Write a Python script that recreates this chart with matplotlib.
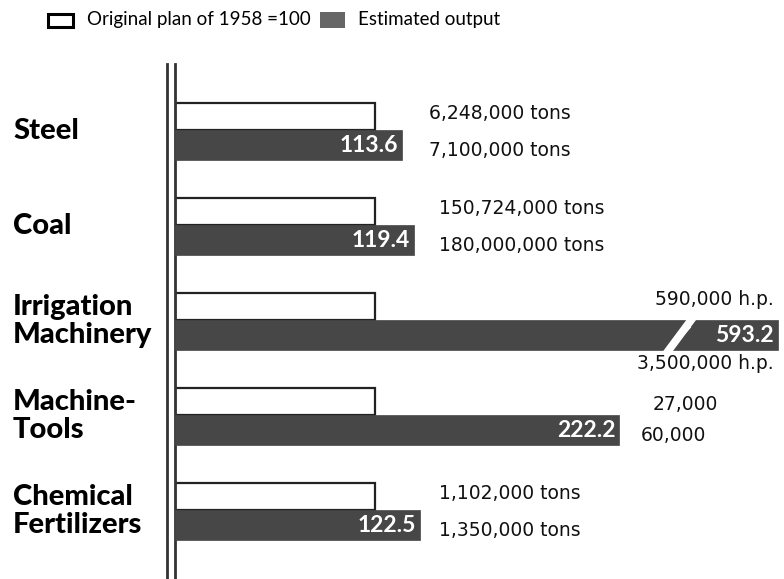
import matplotlib
matplotlib.use("Agg")
import matplotlib.pyplot as plt
from matplotlib.patches import Rectangle, Polygon
from matplotlib.lines import Line2D
import numpy as np

categories = ["Steel", "Coal", "Irrigation\nMachinery", "Machine-\nTools", "Chemical\nFertilizers"]
plan_index = [100, 100, 100, 100, 100]
estimated_index = [113.6, 119.4, 593.2, 222.2, 122.5]
plan_labels = ["6,248,000 tons", "150,724,000 tons", "590,000 h.p.", "27,000", "1,102,000 tons"]
estimated_labels = ["7,100,000 tons", "180,000,000 tons", "3,500,000 h.p.", "60,000", "1,350,000 tons"]
value_labels = ["113.6", "119.4", "593.2", "222.2", "122.5"]

FONT = "Lato"
SIDE_FONT = "DejaVu Sans"
DARK = "#474747"

W, H = 784, 579
fig = plt.figure(figsize=(W / 100, H / 100), dpi=100)

ax_left, ax_right = 175, 784
ax_top, ax_bottom = 64, 579
ax = fig.add_axes([ax_left / W, 1 - ax_bottom / H, (ax_right - ax_left) / W, (ax_bottom - ax_top) / H])

px_per_unit = 2.0
xmax = (ax_right - ax_left) / px_per_unit
cap = xmax - 3
ax.set_xlim(0, xmax)
pitch = 95.0
ax.set_ylim((ax_bottom - 145) / pitch, (ax_top - 145) / pitch)

y = np.arange(len(categories))
ax.barh(y - 0.30, plan_index, height=0.29, color="white", edgecolor="#222222", linewidth=1.6, zorder=2)
disp = [min(v, cap) for v in estimated_index]
ax.barh(y, disp, height=0.32, color=DARK, edgecolor=DARK, linewidth=0.5, zorder=3)

for i, (v, d, lab) in enumerate(zip(estimated_index, disp, value_labels)):
    ax.text(d - 2, i + 0.01, lab, ha="right", va="center", color="white",
            fontsize=16.5, fontweight="bold", family=FONT, zorder=5)
    if v > cap:
        # axis break mark
        xb = d - 50
        poly = Polygon([[xb - 7, i + 0.17], [xb - 3, i + 0.17], [xb + 9, i - 0.17], [xb + 5, i - 0.17]],
                       closed=True, color="white", zorder=4)
        ax.add_patch(poly)
        ax.plot([xb - 1, xb + 6], [i + 0.08, i - 0.08], color="white", lw=1.2, zorder=4)

side_kw = dict(va="center", fontsize=13.5, family=SIDE_FONT, fontweight="medium", color="#111111")
for i, (pl, el, v) in enumerate(zip(plan_labels, estimated_labels, estimated_index)):
    if v > cap:
        ax.text(cap - 2, i - 0.37, pl, ha="right", **side_kw)
        ax.text(cap - 2, i + 0.30, el, ha="right", **side_kw)
    elif v > 200:
        ax.text(239, i - 0.27, pl, ha="left", **side_kw)
        ax.text(233, i + 0.06, el, ha="left", **side_kw)
    else:
        ax.text(127 if i == 0 else 132, i - 0.33, pl, ha="left", **side_kw)
        ax.text(127 if i == 0 else 132, i + 0.06, el, ha="left", **side_kw)

for i, c in enumerate(categories):
    ax.text(-81, i - 0.15, c, ha="left", va="center", fontsize=21, family=FONT, fontweight="black",
            linespacing=1.08, transform=ax.transData)

for s in ["top", "right", "bottom"]:
    ax.spines[s].set_visible(False)
ax.spines["left"].set_linewidth(2.0)
ax.spines["left"].set_color("#333333")
ax.set_xticks([])
ax.set_yticks([])

# second vertical line of the double axis
fig.add_artist(Line2D([167 / W, 167 / W], [1 - ax_bottom / H, 1 - ax_top / H], color="#333333", lw=2.0))

# legend
fig.add_artist(Rectangle((48 / W, 1 - 27 / H), 25 / W, 13 / H, facecolor="white", edgecolor="black", lw=2.2))
fig.text(87 / W, 1 - 20 / H, "Original plan of 1958 =100", ha="left", va="center", fontsize=13.5, family=FONT)
fig.add_artist(Rectangle((320 / W, 1 - 28 / H), 25 / W, 16 / H, facecolor="#666666", edgecolor="none"))
fig.text(358 / W, 1 - 20 / H, "Estimated output", ha="left", va="center", fontsize=13.5, family=FONT)

fig.savefig("out.png", dpi=100)
